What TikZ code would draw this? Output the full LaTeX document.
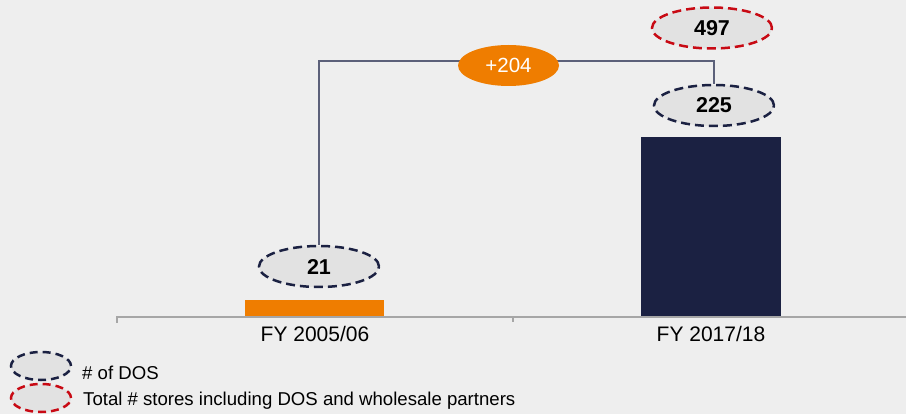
\documentclass[tikz,border=0pt]{standalone}
\usepackage{fontspec}
\setmainfont{Liberation Sans}
\usetikzlibrary{shapes.geometric}
\definecolor{bgc}{HTML}{EEEEEE}
\definecolor{navy}{HTML}{1B2142}
\definecolor{orng}{HTML}{EF7D00}
\definecolor{redd}{HTML}{C80A14}
\definecolor{axc}{HTML}{A6A6A6}
\definecolor{conc}{HTML}{5B6079}
\definecolor{ellfill}{HTML}{E2E2E2}
\pgfdeclarelayer{bglayer}
\pgfdeclarelayer{connlayer}
\pgfsetlayers{bglayer,connlayer,main}
\tikzset{
  numell/.style={ellipse, fill=ellfill, line width=2.5pt, dash pattern=on 9pt off 5pt,
    minimum width=120pt, minimum height=41pt, inner sep=0pt,
    font=\fontsize{21.5}{24}\selectfont\bfseries},
  dosell/.style={numell, draw=navy},
  totell/.style={numell, draw=redd},
  legell/.style={ellipse, fill=ellfill, line width=2.5pt, dash pattern=on 8pt off 5pt,
    minimum width=60pt, minimum height=28pt, inner sep=0pt},
  deltaell/.style={ellipse, fill=orng, text=white, minimum width=101pt, minimum height=41pt,
    inner sep=0pt, font=\fontsize{20.5}{24}\selectfont},
  axlabel/.style={anchor=base, inner sep=0pt, font=\fontsize{21}{24}\selectfont},
  leglabel/.style={anchor=base west, inner sep=0pt, font=\fontsize{18.6}{22}\selectfont},
  axisline/.style={draw=axc, line width=2pt},
  conn/.style={draw=conc, line width=2pt}
}
\begin{document}
\begin{tikzpicture}[x=1pt,y=-1pt]
\begin{pgfonlayer}{bglayer}
\fill[bgc] (0,0) rectangle (906,414);
\end{pgfonlayer}
\useasboundingbox (0,0) rectangle (906,414);

% bars
\fill[orng] (245,300) rectangle (384,317);
\fill[navy] (641,137) rectangle (781,317);

% axis
\draw[axisline] (117,323) -- (117,317) -- (906,317);
\draw[axisline] (513,317) -- (513,322);

% axis labels
\node[axlabel] (l1) at (315,342) {FY 2005/06};
\node[axlabel] (l2) at (711,342) {FY 2017/18};

% value ellipses
\node[dosell] (e21) at (319,266.5) {21};
\node[dosell] (e225) at (714,105.5) {225};
\node[totell] (e497) at (712,28) {497};
\node[deltaell] (d204) at (508.5,65.5) {+204};

% connector
\coordinate (tl) at (e21.north |- 0,61);
\coordinate (tr) at (e225.north |- 0,61);
\begin{pgfonlayer}{connlayer}
\draw[conn] (e21.north) -- (tl) -- (tr) -- (e225.north);
\end{pgfonlayer}

% legend
\node[legell, draw=navy] (lg1) at (41,366) {};
\node[legell, draw=redd] (lg2) at (41,398) {};
\node[leglabel] (lt1) at (82,380) {\# of DOS};
\node[leglabel] (lt2) at (83,406) {Total \# stores including DOS and wholesale partners};
\end{tikzpicture}
\end{document}
